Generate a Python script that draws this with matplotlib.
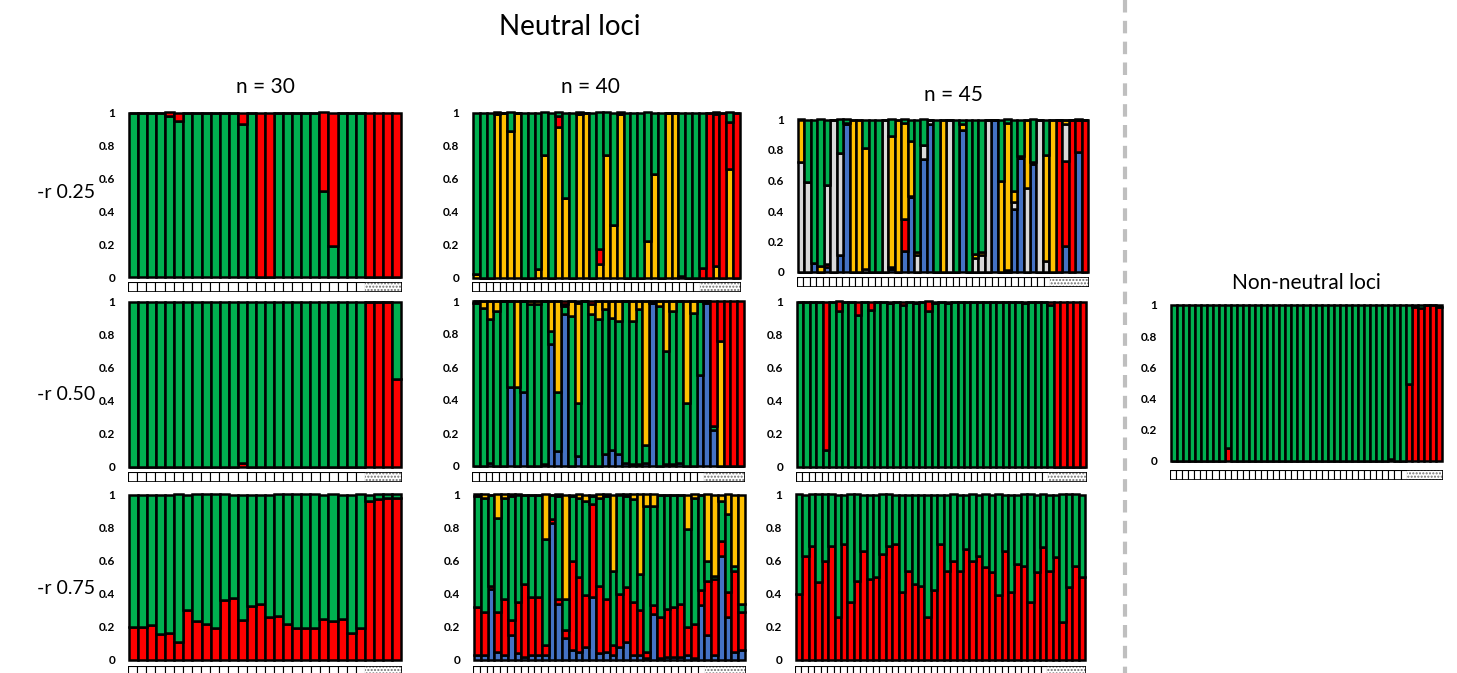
import matplotlib.pyplot as plt
import matplotlib.patches as mpatches
import numpy as np

plt.rcParams['font.family'] = ['Lato', 'DejaVu Sans']

### COLOURS (cluster colours as in the STRUCTURE-style plots) ###
GREEN = '#00B050'
RED = '#FF0000'
YELLOW = '#FFC000'
BLUE = '#4472C4'
GREY = '#D9D9D9'

### DATA: membership fractions per individual ###
### -r 0.25, n = 30 (green / red) ###
r25_n30_green = [1, 1, 1, 1, 0.98, 0.95, 1, 1, 1, 1, 1, 1, 0.93, 1, 0, 0, 1, 1, 1, 1,
                 1, 0.52, 0.19, 1, 1, 1, 0, 0, 0, 0]
r25_n30_red = [0, 0, 0, 0, 0.02, 0.05, 0, 0, 0, 0, 0, 0, 0.07, 0, 1, 1, 0, 0, 0, 0,
               0, 0.48, 0.81, 0, 0, 0, 1, 1, 1, 1]

### -r 0.25, n = 40 (yellow / red / green) ###
r25_n40_yellow = [0.02, 0, 0, 0.99, 1, 0.89, 1, 0, 0, 0.05, 0.74, 0, 0.91, 0.48, 0, 0.99, 1, 0, 0.08, 0.74,
                  0.32, 0.99, 0, 0, 0, 0.22, 0.63, 0, 1, 1, 0.01, 0, 0, 0, 0, 0.07, 0, 0.66, 0]
r25_n40_red = [0, 0, 0, 0, 0, 0, 0, 0, 0, 0, 0, 0, 0.07, 0, 0, 0, 0, 0, 0.09, 0,
               0, 0, 0, 0, 0, 0, 0, 0, 0, 0, 0, 0, 0, 0.06, 1, 0.92, 1, 0.28, 1]
r25_n40_green = [0.98, 1, 1, 0.01, 0, 0.11, 0, 1, 1, 0.95, 0.26, 1, 0.02, 0.52, 1, 0.01, 0, 1, 0.83, 0.26,
                 0.68, 0.01, 1, 1, 1, 0.78, 0.37, 1, 0, 0, 0.99, 1, 1, 0.94, 0, 0.01, 0, 0.06, 0]

### -r 0.25, n = 45 (blue / red / grey / yellow / green) ###
r25_n45_blue = [0, 0, 0.06, 0, 0.03, 0, 0.11, 0.97, 0, 0, 0, 0, 0, 0, 0.02, 0, 0.14, 0.49, 0, 0.74,
                0.97, 0, 0, 0, 0, 0.93, 0, 0, 0, 0, 1, 0, 0, 0.41, 0.75, 0, 0.71, 0, 0, 0,
                0, 0.17, 0, 0.79, 0]
r25_n45_red = [0, 0, 0, 0, 0.02, 0, 0, 0, 0, 0, 0, 0, 0, 0, 0, 0, 0.21, 0, 0, 0,
               0, 0, 0, 0, 0, 0, 0, 0, 0, 0, 0, 0, 0, 0, 0, 0, 0.01, 0, 0, 0,
               1, 0.56, 1, 0.21, 1]
r25_n45_grey = [0.72, 0.59, 0, 0, 0.52, 1, 0.67, 0.01, 0, 0, 0.02, 0, 0, 1, 0.01, 0, 0, 0.01, 0.11, 0.09,
                0.03, 0, 0, 1, 0, 0, 0, 0.09, 0.11, 1, 0, 0, 0.01, 0.05, 0.01, 0.55, 0, 1, 0.07, 0,
                0, 0.24, 0, 0, 0]
r25_n45_yellow = [0.28, 0, 0, 0.04, 0, 0, 0, 0, 1, 1, 0.79, 0, 0, 0, 0.86, 1, 0.63, 0.36, 0.02, 0,
                  0, 0, 1, 0, 0, 0.04, 0, 0.03, 0.02, 0, 0, 0.6, 0.97, 0.07, 0, 0.45, 0, 0, 0.70, 1,
                  0, 0.03, 0, 0, 0]
r25_n45_green = [0, 0.41, 0.94, 0.96, 0.43, 0, 0.22, 0.02, 0, 0, 0.19, 1, 1, 0, 0.11, 0, 0.02, 0.14, 0.87, 0.17,
                 0, 1, 0, 0, 1, 0.03, 1, 0.88, 0.87, 0, 0, 0.4, 0.02, 0.47, 0.24, 0, 0.28, 0, 0.23, 0,
                 0, 0, 0, 0, 0]

### -r 0.50, n = 30 (red / green) ###
r50_n30_red = [0, 0, 0, 0, 0, 0, 0, 0, 0, 0, 0, 0, 0.02, 0, 0, 0, 0, 0, 0, 0,
               0, 0, 0, 0, 0, 0, 1, 1, 1, 0.53]
r50_n30_green = [1, 1, 1, 1, 1, 1, 1, 1, 1, 1, 1, 1, 0.98, 1, 1, 1, 1, 1, 1, 1,
                 1, 1, 1, 1, 1, 1, 0, 0, 0, 0.47]

### -r 0.50, n = 40 (blue / green / yellow / red) ###
r50_n40_blue = [0, 0, 0.02, 0, 0, 0.48, 0, 0.45, 0, 0, 0.01, 0.74, 0.09, 0.92, 0, 0.06, 0, 0, 0, 0.07,
                0.10, 0.07, 0.02, 0.01, 0.01, 0.02, 0.99, 0, 0.01, 0.01, 0.02, 0, 0, 0.55, 0.99, 0.22, 0, 0, 0, 0]
r50_n40_green = [0.99, 0.96, 0.87, 0.94, 1, 0.52, 0.48, 0.55, 0.98, 0.98, 0.99, 0.08, 0.36, 0.05, 0.91, 0.32, 1, 0.92, 0.89, 0.88,
                 0.80, 0.81, 0.98, 0.87, 0.94, 0.11, 0, 0.97, 0.69, 0.93, 0.98, 0.38, 0.93, 0.45, 0.01, 0.02, 0, 0, 0, 0]
r50_n40_yellow = [0.01, 0.04, 0.11, 0.06, 0, 0, 0.52, 0, 0.02, 0.02, 0, 0.18, 0.55, 0.01, 0.09, 0.61, 0, 0.06, 0.11, 0.05,
                  0.10, 0.12, 0, 0.12, 0.05, 0.87, 0.01, 0.03, 0.30, 0.06, 0, 0.62, 0.07, 0, 0, 0, 0.76, 0, 0, 0]
r50_n40_red = [0, 0, 0, 0, 0, 0, 0, 0, 0, 0, 0, 0, 0, 0.02, 0, 0.01, 0, 0.02, 0, 0,
               0, 0, 0, 0, 0, 0, 0, 0, 0, 0, 0, 0, 0, 0, 0, 0.76, 0.24, 1, 1, 1]

### -r 0.50, n = 45 (green / red) ###
r50_n45_green = [1, 1, 1, 1, 0.10, 1, 0.94, 1, 1, 0.92, 1, 0.95, 1, 1, 0.99, 1, 0.98, 1, 0.99, 1,
                 0.94, 0.99, 1, 0.99, 1, 1, 1, 1, 1, 1, 1, 1, 1, 1, 1, 0.99, 1, 1, 1, 0.98,
                 0, 0, 0, 0, 0]
r50_n45_red = [0, 0, 0, 0, 0.90, 0, 0.06, 0, 0, 0.08, 0, 0.05, 0, 0, 0.01, 0, 0.02, 0, 0.01, 0,
               0.06, 0.01, 0, 0.01, 0, 0, 0, 0, 0, 0, 0, 0, 0, 0, 0, 0.01, 0, 0, 0, 0.02,
               1, 1, 1, 1, 1]

### -r 0.75, n = 30 (red / green) ###
r75_n30_red = [0.20, 0.20, 0.21, 0.155, 0.165, 0.11, 0.30, 0.235, 0.22, 0.195, 0.36, 0.375, 0.24, 0.325, 0.34,
               0.26, 0.265, 0.22, 0.195, 0.195, 0.195, 0.245, 0.235, 0.25, 0.165, 0.195, 0.96, 0.97, 0.98, 0.98]
r75_n30_green = [0.80, 0.80, 0.79, 0.845, 0.835, 0.89, 0.70, 0.765, 0.78, 0.805, 0.64, 0.625, 0.76, 0.675, 0.66,
                 0.74, 0.735, 0.78, 0.805, 0.805, 0.805, 0.755, 0.765, 0.75, 0.835, 0.805, 0.04, 0.03, 0.02, 0.02]

### -r 0.75, n = 40 (blue / red / green / yellow) ###
r75_n40_blue = [0.03, 0.03, 0.43, 0.05, 0.03, 0.15, 0.04, 0.02, 0.03, 0.03, 0.03, 0.83, 0.34, 0.13, 0.06, 0.05, 0.08, 0.38, 0.04, 0.05,
                0.03, 0.08, 0.11, 0.03, 0.03, 0.01, 0.28, 0.01, 0.02, 0.02, 0.02, 0.03, 0.01, 0.33, 0.15, 0.03, 0.63, 0.26, 0.05, 0.06]
r75_n40_red = [0.29, 0.26, 0.02, 0.24, 0.34, 0.09, 0.31, 0.44, 0.35, 0.35, 0.06, 0.02, 0.03, 0.05, 0.54, 0.45, 0.31, 0.56, 0.41, 0.32,
               0.06, 0.32, 0.33, 0.32, 0.27, 0.04, 0.05, 0.25, 0.29, 0.30, 0.32, 0.17, 0.21, 0.09, 0.33, 0.46, 0.09, 0.15, 0.49, 0.23]
r75_n40_green = [0.67, 0.69, 0.55, 0.57, 0.61, 0.75, 0.65, 0.54, 0.62, 0.62, 0.64, 0.15, 0.62, 0.19, 0.39, 0.48, 0.57, 0.05, 0.53, 0.62,
                 0.45, 0.60, 0.55, 0.62, 0.22, 0.88, 0.60, 0.74, 0.69, 0.68, 0.66, 0.59, 0.76, 0.58, 0.12, 0.02, 0.24, 0.47, 0.03, 0.05]
r75_n40_yellow = [0.01, 0.02, 0, 0.14, 0.02, 0.01, 0, 0, 0, 0, 0.27, 0, 0.01, 0.63, 0.01, 0.02, 0.04, 0.01, 0.02, 0.01,
                  0.46, 0, 0.01, 0.03, 0.48, 0.07, 0.07, 0, 0, 0, 0, 0.21, 0.02, 0, 0.40, 0.49, 0.04, 0.12, 0.43, 0.66]

### -r 0.75, n = 45 (red / green) ###
r75_n45_red = [0.40, 0.63, 0.69, 0.47, 0.60, 0.69, 0.26, 0.70, 0.35, 0.48, 0.66, 0.49, 0.50, 0.64, 0.69,
               0.70, 0.41, 0.54, 0.46, 0.45, 0.26, 0.42, 0.70, 0.54, 0.60, 0.54, 0.67, 0.60, 0.63, 0.56,
               0.53, 0.39, 0.66, 0.41, 0.58, 0.57, 0.35, 0.53, 0.68, 0.54, 0.62, 0.23, 0.44, 0.57, 0.50]
r75_n45_green = [0.60, 0.37, 0.31, 0.53, 0.40, 0.31, 0.74, 0.30, 0.65, 0.52, 0.34, 0.51, 0.50, 0.36, 0.31,
                 0.30, 0.59, 0.46, 0.54, 0.55, 0.74, 0.58, 0.30, 0.46, 0.40, 0.46, 0.33, 0.40, 0.37, 0.44,
                 0.47, 0.61, 0.34, 0.59, 0.42, 0.43, 0.65, 0.47, 0.32, 0.46, 0.38, 0.77, 0.56, 0.43, 0.50]

### non-neutral loci (red / green) ###
nonneutral_red = [0, 0, 0, 0, 0, 0, 0, 0, 0, 0.08, 0, 0, 0, 0, 0, 0, 0, 0, 0, 0,
                  0, 0, 0, 0, 0, 0, 0, 0, 0, 0, 0, 0, 0, 0, 0, 0, 0.01, 0, 0, 0.49,
                  0.99, 0.98, 1, 1, 0.99]
nonneutral_green = [1, 1, 1, 1, 1, 1, 1, 1, 1, 0.92, 1, 1, 1, 1, 1, 1, 1, 1, 1, 1,
                    1, 1, 1, 1, 1, 1, 1, 1, 1, 1, 1, 1, 1, 1, 1, 1, 0.99, 1, 1, 0.51,
                    0.01, 0.02, 0, 0, 0.01]

### number of individuals in the dotted (second) population ###
r25_n30_dot, r25_n40_dot, r25_n45_dot = 4, 6, 6
r50_n30_dot, r50_n40_dot, r50_n45_dot = 4, 6, 6
r75_n30_dot, r75_n40_dot, r75_n45_dot = 4, 6, 6
nonneutral_dot = 6

ytick_vals = [0, 0.2, 0.4, 0.6, 0.8, 1]
ytick_labels = ['0', '0.2', '0.4', '0.6', '0.8', '1']

W, H = 1457, 673
fig = plt.figure(figsize=(W / 100, H / 100), dpi=100)


def px_rect(x0, x1, ytop, ybot):
    ### pixel box -> figure fraction ###
    return [x0 / W, 1 - ybot / H, (x1 - x0) / W, (ybot - ytop) / H]


def draw_panel(box, parts, n_dot, band_top):
    x0, x1, ytop, ybot = box
    ax = fig.add_axes(px_rect(x0, x1, ytop, ybot))
    n = len(parts[0][0])
    xs = np.arange(n)
    total = np.sum([np.array(v, dtype=float) for v, c in parts], axis=0)
    bottom = np.zeros(n)
    for vals, col in parts:
        vals = np.array(vals, dtype=float) / total
        ax.bar(xs, vals, width=1.0, bottom=bottom, color=col,
               edgecolor='black', linewidth=1.8, clip_on=False)
        bottom = bottom + vals
    ax.set_xlim(-0.5, n - 0.5)
    ax.set_ylim(0, 1)
    ax.set_xticks([])
    ax.set_yticks(ytick_vals)
    ax.set_yticklabels(ytick_labels, fontsize=8.5, fontweight='bold')
    ax.tick_params(axis='y', length=0, pad=10)
    for s in ax.spines.values():
        s.set_visible(False)

    ### population label band under the bars ###
    bx = fig.add_axes(px_rect(x0 - 1, x1 + 1, band_top, band_top + 10))
    n_white = n - n_dot
    bx.bar(np.arange(n_white), np.ones(n_white), width=1.0, color='white',
           edgecolor='black', linewidth=0.8)
    bx.add_patch(mpatches.Rectangle((n_white - 0.5, 0), n_dot, 1, facecolor='white',
                                    edgecolor='#707070', hatch='.....', linewidth=0))
    bx.add_patch(mpatches.Rectangle((-0.5, 0), n, 1, fill=False,
                                    edgecolor='black', linewidth=1.2))
    bx.set_xlim(-0.5, n - 0.5)
    bx.set_ylim(0, 1)
    bx.axis('off')
    return ax


### ROW 1: -r 0.25 ###
draw_panel((129, 401, 112.5, 277), [(r25_n30_green, GREEN), (r25_n30_red, RED)], r25_n30_dot, 282)
draw_panel((473, 740, 112.5, 277.5), [(r25_n40_yellow, YELLOW), (r25_n40_red, RED), (r25_n40_green, GREEN)],
           r25_n40_dot, 282)
draw_panel((798, 1088, 119.5, 272), [(r25_n45_blue, BLUE), (r25_n45_red, RED), (r25_n45_grey, GREY),
                                     (r25_n45_yellow, YELLOW), (r25_n45_green, GREEN)], r25_n45_dot, 277)

### ROW 2: -r 0.50 ###
draw_panel((129, 401, 301.5, 466.5), [(r50_n30_red, RED), (r50_n30_green, GREEN)], r50_n30_dot, 472)
draw_panel((473, 744, 301, 466), [(r50_n40_blue, BLUE), (r50_n40_green, GREEN), (r50_n40_yellow, YELLOW),
                                  (r50_n40_red, RED)], r50_n40_dot, 472)
draw_panel((797, 1086, 301.5, 466.5), [(r50_n45_green, GREEN), (r50_n45_red, RED)], r50_n45_dot, 472)

### ROW 3: -r 0.75 ###
draw_panel((129, 401, 494.5, 660), [(r75_n30_red, RED), (r75_n30_green, GREEN)], r75_n30_dot, 666)
draw_panel((474, 745, 494.5, 660), [(r75_n40_blue, BLUE), (r75_n40_red, RED), (r75_n40_green, GREEN),
                                    (r75_n40_yellow, YELLOW)], r75_n40_dot, 666)
draw_panel((796, 1085, 494.5, 660), [(r75_n45_red, RED), (r75_n45_green, GREEN)], r75_n45_dot, 666)

### NON-NEUTRAL ###
draw_panel((1171, 1442, 305, 460.5), [(nonneutral_red, RED), (nonneutral_green, GREEN)], nonneutral_dot, 470)

### TEXTS ###
def ftext(x, y, s, size):
    fig.text(x / W, 1 - y / H, s, fontsize=size, ha='center', va='center')

ftext(570, 27, 'Neutral loci', 20)
ftext(265, 87, 'n = 30', 15)
ftext(590, 87, 'n = 40', 15)
ftext(953, 95, 'n = 45', 15)
ftext(66, 193, '-r 0.25', 14)
ftext(66, 394, '-r 0.50', 14)
ftext(66, 588, '-r 0.75', 14)
ftext(1306, 283, 'Non-neutral loci', 15)

### dashed separator ###
sep = fig.add_axes([0, 0, 1, 1], zorder=-1)
sep.plot([1125, 1125], [0, H], color='#BFBFBF', linewidth=3, linestyle=(0, (3, 2)))
sep.set_xlim(0, W)
sep.set_ylim(H, 0)
sep.axis('off')

fig.savefig('out.png', dpi=100)
